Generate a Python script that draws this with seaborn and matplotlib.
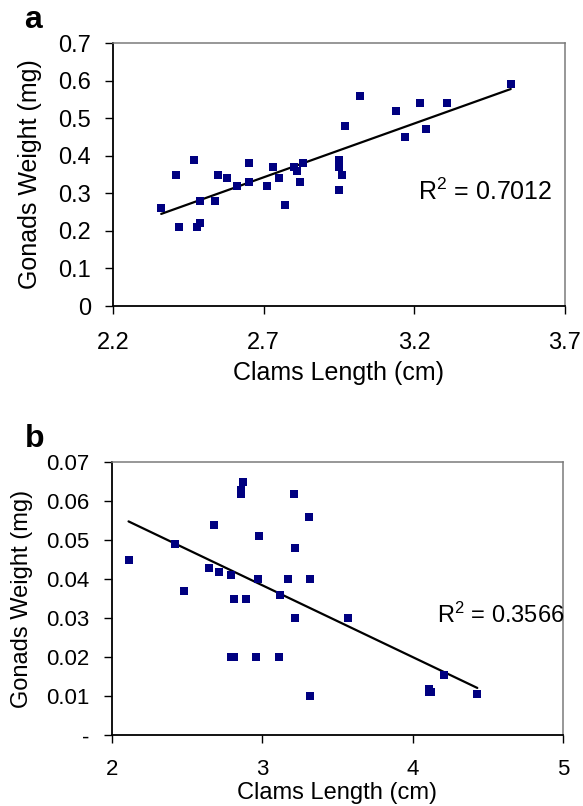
import matplotlib
matplotlib.use("Agg")
import matplotlib.pyplot as plt
import seaborn as sns
import pandas as pd

# Panel a data
a_length = [2.36, 2.41, 2.42, 2.47, 2.48, 2.49, 2.49, 2.54, 2.55, 2.58, 2.61,
            2.65, 2.65, 2.71, 2.73, 2.75, 2.77, 2.80, 2.81, 2.83, 2.82, 2.95,
            2.95, 2.96, 2.95, 2.97, 3.02, 3.14, 3.17, 3.22, 3.24, 3.31, 3.52]
a_weight = [0.26, 0.35, 0.21, 0.39, 0.21, 0.22, 0.28, 0.28, 0.35, 0.34, 0.32,
            0.38, 0.33, 0.32, 0.37, 0.34, 0.27, 0.37, 0.36, 0.38, 0.33, 0.39,
            0.37, 0.35, 0.31, 0.48, 0.56, 0.52, 0.45, 0.54, 0.47, 0.54, 0.59]
a_r2 = "0.7012"
a_xticks = [2.2, 2.7, 3.2, 3.7]
a_xticklabels = ["2.2", "2.7", "3.2", "3.7"]
a_yticks = [0, 0.1, 0.2, 0.3, 0.4, 0.5, 0.6, 0.7]
a_yticklabels = ["0", "0.1", "0.2", "0.3", "0.4", "0.5", "0.6", "0.7"]

# Panel b data
b_length = [2.11, 2.42, 2.48, 2.645, 2.68, 2.71, 2.79, 2.81, 2.79, 2.81, 2.86,
            2.86, 2.87, 2.89, 2.96, 2.97, 2.98, 3.11, 3.12, 3.17, 3.21, 3.22,
            3.22, 3.31, 3.32, 3.32, 3.57, 4.11, 4.11, 4.12, 4.21, 4.43]
b_weight = [0.045, 0.049, 0.037, 0.043, 0.054, 0.042, 0.041, 0.035, 0.020, 0.020,
            0.062, 0.063, 0.065, 0.035, 0.020, 0.040, 0.051, 0.020, 0.036, 0.040,
            0.062, 0.048, 0.030, 0.056, 0.040, 0.010, 0.030, 0.012, 0.011, 0.011,
            0.0155, 0.0105]
b_r2 = "0.3566"
b_xticks = [2, 3, 4, 5]
b_xticklabels = ["2", "3", "4", "5"]
b_yticks = [0, 0.01, 0.02, 0.03, 0.04, 0.05, 0.06, 0.07]
b_yticklabels = ["-", "0.01", "0.02", "0.03", "0.04", "0.05", "0.06", "0.07"]

sns.set_theme(style="white")
plt.rcParams["font.family"] = ["Liberation Sans", "DejaVu Sans"]
plt.rcParams["mathtext.fontset"] = "custom"
plt.rcParams["mathtext.rm"] = "Liberation Sans"
plt.rcParams["mathtext.it"] = "Liberation Sans:italic"
plt.rcParams["mathtext.bf"] = "Liberation Sans:bold"
for k in ("text.color", "axes.labelcolor", "xtick.color", "ytick.color"):
    plt.rcParams[k] = "black"

fig = plt.figure(figsize=(5.83, 8.06), dpi=100)
ax_a = fig.add_axes([0.1938, 0.6203, 0.7753, 0.3263])
ax_b = fig.add_axes([0.1921, 0.0877, 0.7736, 0.3387])

navy = "#000080"


def draw(ax, xs, ys, r2, xticks, xtl, yticks, ytl, r2pos, lab_fs, tick_fs,
         xpad, xlabelpad, ylabel_x):
    df = pd.DataFrame({"x": xs, "y": ys})
    sns.regplot(data=df, x="x", y="y", ax=ax, ci=None, scatter=False,
                truncate=True, line_kws={"color": "black", "lw": 1.6})
    sns.scatterplot(data=df, x="x", y="y", ax=ax, marker="s", s=36,
                    color=navy, edgecolor=navy, linewidth=0, zorder=3)
    ax.set_xlim(xticks[0], xticks[-1])
    ax.set_ylim(yticks[0], yticks[-1])
    ax.set_xticks(xticks)
    ax.set_xticklabels(xtl, fontsize=tick_fs)
    ax.set_yticks(yticks)
    ax.set_yticklabels(ytl, fontsize=tick_fs)
    ax.set_xlabel("Clams Length (cm)", fontsize=lab_fs, labelpad=xlabelpad)
    ax.set_ylabel("Gonads Weight (mg)", fontsize=lab_fs)
    ax.yaxis.set_label_coords(ylabel_x, 0.5)
    for s in ("left", "bottom"):
        ax.spines[s].set_color("black")
        ax.spines[s].set_linewidth(1.3)
    for s in ("top", "right"):
        ax.spines[s].set_color("#7a7a7a")
        ax.spines[s].set_linewidth(1.1)
    ax.tick_params(axis="both", direction="out", length=5.5, width=1.0,
                   color="black", left=True, bottom=True)
    ax.tick_params(axis="x", pad=xpad)
    ax.tick_params(axis="y", pad=10.5)
    ax.text(r2pos[0], r2pos[1], "R$^2$ = " + r2, fontsize=lab_fs,
            color="black", ha="left", va="baseline")


draw(ax_a, a_length, a_weight, a_r2, a_xticks, a_xticklabels, a_yticks,
     a_yticklabels, (3.212, 0.283), 18, 17, 13.5, 5, -0.157)
draw(ax_b, b_length, b_weight, b_r2, b_xticks, b_xticklabels, b_yticks,
     b_yticklabels, (4.163, 0.0289), 17, 16, 11.5, 1.5, -0.175)

fig.text(24 / 583, 1 - 28 / 806, "a", fontsize=23, fontweight="bold",
         ha="left", va="baseline")
fig.text(25 / 583, 1 - 447 / 806, "b", fontsize=23, fontweight="bold",
         ha="left", va="baseline")

fig.savefig("out.png", dpi=100)
